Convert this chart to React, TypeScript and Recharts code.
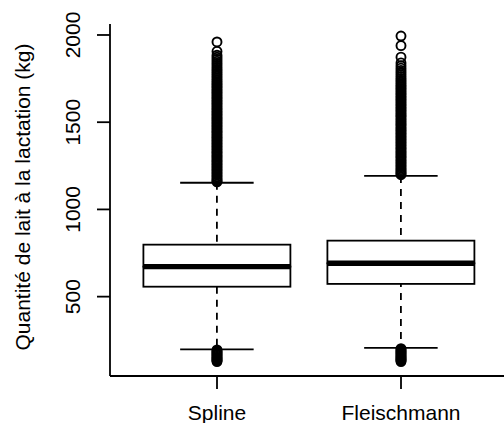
import React from 'react';
import { ComposedChart, Bar, Scatter, XAxis, YAxis } from 'recharts';

const categories = ['Spline', 'Fleischmann'];
const q1Values = [557, 573];
const medianValues = [672, 691];
const q3Values = [798, 821];
const whiskerLow = [198, 206];
const whiskerHigh = [1153, 1192];
const yTicks = [500, 1000, 1500, 2000];
const yDomain = [45, 2063];
const yLabel = 'Quantité de lait à la lactation (kg)';

const splineUpperOutliers = [
  1960, 1906, 1884, 1872, 1861, 1849, 1838, 1827, 1815, 1804, 1794, 1783, 1773, 1763, 1753, 1743,
  1734, 1724, 1715, 1706, 1697, 1688, 1679, 1670, 1661, 1652, 1643, 1634, 1625, 1616, 1607, 1598,
  1589, 1580, 1571, 1562, 1553, 1544, 1535, 1526, 1518, 1509, 1500, 1491, 1482, 1474, 1465, 1456,
  1447, 1439, 1430, 1421, 1412, 1404, 1395, 1386, 1378, 1369, 1360, 1352, 1343, 1334, 1326, 1317,
  1308, 1300, 1291, 1282, 1274, 1265, 1256, 1248, 1239, 1230, 1222, 1213, 1204, 1196, 1187, 1178,
  1170, 1163, 1158,
];
const splineLowerOutliers = [195, 189, 183, 177, 171, 165, 159, 153, 148, 142, 137, 132, 128];
const fleischmannUpperOutliers = [
  1994, 1939, 1873, 1840, 1824, 1810, 1797, 1785, 1773, 1762, 1751, 1741, 1731, 1721, 1711, 1702,
  1693, 1684, 1675, 1666, 1657, 1648, 1639, 1630, 1621, 1612, 1603, 1594, 1585, 1576, 1567, 1558,
  1549, 1540, 1532, 1523, 1514, 1505, 1496, 1488, 1479, 1470, 1461, 1453, 1444, 1435, 1427, 1418,
  1409, 1401, 1392, 1383, 1375, 1366, 1357, 1349, 1340, 1331, 1323, 1314, 1305, 1297, 1288, 1279,
  1271, 1262, 1253, 1245, 1236, 1228, 1220, 1212, 1205, 1199,
];
const fleischmannLowerOutliers = [202, 196, 190, 184, 178, 172, 166, 160, 154, 148, 143, 138, 133, 128];

const data = categories.map((name, i) => ({
  name,
  whisker: [whiskerLow[i], whiskerHigh[i]],
  lowerBox: [q1Values[i], medianValues[i]],
  upperBox: [medianValues[i], q3Values[i]],
}));

const outlierData = [
  ...splineUpperOutliers.map((value) => ({ name: categories[0], value })),
  ...splineLowerOutliers.map((value) => ({ name: categories[0], value })),
  ...fleischmannUpperOutliers.map((value) => ({ name: categories[1], value })),
  ...fleischmannLowerOutliers.map((value) => ({ name: categories[1], value })),
];

const FONT = '"Liberation Sans", Arial, Helvetica, sans-serif';
const LW = 1.8;

const WhiskerShape = (props: any) => {
  const { x, y, width, height } = props;
  const cx = x + width / 2;
  return (
    <g>
      <line x1={cx} x2={cx} y1={y} y2={y + height} stroke="#000" strokeWidth={LW} strokeDasharray="7 6" />
      <line x1={x + width / 4} x2={x + (3 * width) / 4} y1={y} y2={y} stroke="#000" strokeWidth={LW} />
      <line x1={x + width / 4} x2={x + (3 * width) / 4} y1={y + height} y2={y + height} stroke="#000" strokeWidth={LW} />
    </g>
  );
};

const LowerBoxShape = (props: any) => {
  const { x, y, width, height } = props;
  return <rect x={x} y={y} width={width} height={height} fill="#fff" stroke="#000" strokeWidth={LW} />;
};

const UpperBoxShape = (props: any) => {
  const { x, y, width, height } = props;
  return (
    <g>
      <rect x={x} y={y} width={width} height={height} fill="#fff" stroke="#000" strokeWidth={LW} />
      <line x1={x} x2={x + width} y1={y + height} y2={y + height} stroke="#000" strokeWidth={5.4} />
    </g>
  );
};

const OutlierShape = (props: any) => {
  const { cx, cy } = props;
  return <circle cx={cx} cy={cy} r={4.5} fill="none" stroke="#000" strokeWidth={1.9} />;
};

const YTick = (props: any) => {
  const { x, y, payload } = props;
  const bx = x - 17;
  return (
    <text x={bx} y={y} transform={`rotate(-90, ${bx}, ${y})`} textAnchor="middle" fontSize={21} fontFamily={FONT} fill="#000">
      {payload.value}
    </text>
  );
};

const XTick = (props: any) => {
  const { x, y, payload } = props;
  return (
    <text x={x} y={y + 31} textAnchor="middle" fontSize={21} fontFamily={FONT} fill="#000">
      {payload.value}
    </text>
  );
};

const YLabel = (props: any) => {
  const { viewBox } = props;
  const bx = viewBox.x + 20;
  const cy = viewBox.y + viewBox.height / 2 - 3;
  return (
    <text x={bx} y={cy} transform={`rotate(-90, ${bx}, ${cy})`} textAnchor="middle" fontSize={21} fontFamily={FONT} fill="#000">
      {yLabel}
    </text>
  );
};

const pad = { left: 15, right: 15 };

export default function App() {
  return (
    <div style={{ position: 'absolute', left: 0, top: 0, width: 504, height: 423, overflow: 'hidden', background: '#fff' }}>
      <ComposedChart
        width={520}
        height={423}
        data={data}
        margin={{ top: 24, right: 12, bottom: 0, left: 10 }}
        barCategoryGap="10%"
      >
        <XAxis
          xAxisId={0}
          dataKey="name"
          type="category"
          allowDuplicatedCategory={false}
          padding={pad}
          height={47}
          tickSize={13}
          tickMargin={0}
          tick={<XTick />}
          axisLine={{ stroke: '#000', strokeWidth: LW }}
          tickLine={{ stroke: '#000', strokeWidth: LW }}
        />
        <XAxis
          xAxisId="top"
          orientation="top"
          dataKey="name"
          type="category"
          allowDuplicatedCategory={false}
          padding={pad}
          height={0}
          tick={false}
          tickLine={false}
          axisLine={{ stroke: '#000', strokeWidth: LW }}
        />
        <XAxis
          xAxisId="upper"
          dataKey="name"
          type="category"
          allowDuplicatedCategory={false}
          padding={pad}
          hide
        />
        <YAxis
          type="number"
          domain={yDomain}
          allowDataOverflow
          ticks={yTicks}
          interval={0}
          width={100}
          tickSize={13}
          tickMargin={0}
          tick={<YTick />}
          axisLine={{ stroke: '#000', strokeWidth: LW }}
          tickLine={{ stroke: '#000', strokeWidth: LW }}
          label={<YLabel />}
        />
        <Bar xAxisId={0} dataKey="whisker" shape={<WhiskerShape />} isAnimationActive={false} />
        <Bar xAxisId="top" dataKey="lowerBox" shape={<LowerBoxShape />} isAnimationActive={false} />
        <Bar xAxisId="upper" dataKey="upperBox" shape={<UpperBoxShape />} isAnimationActive={false} />
        <Scatter xAxisId={0} data={outlierData} dataKey="value" shape={<OutlierShape />} isAnimationActive={false} />
      </ComposedChart>
    </div>
  );
}
